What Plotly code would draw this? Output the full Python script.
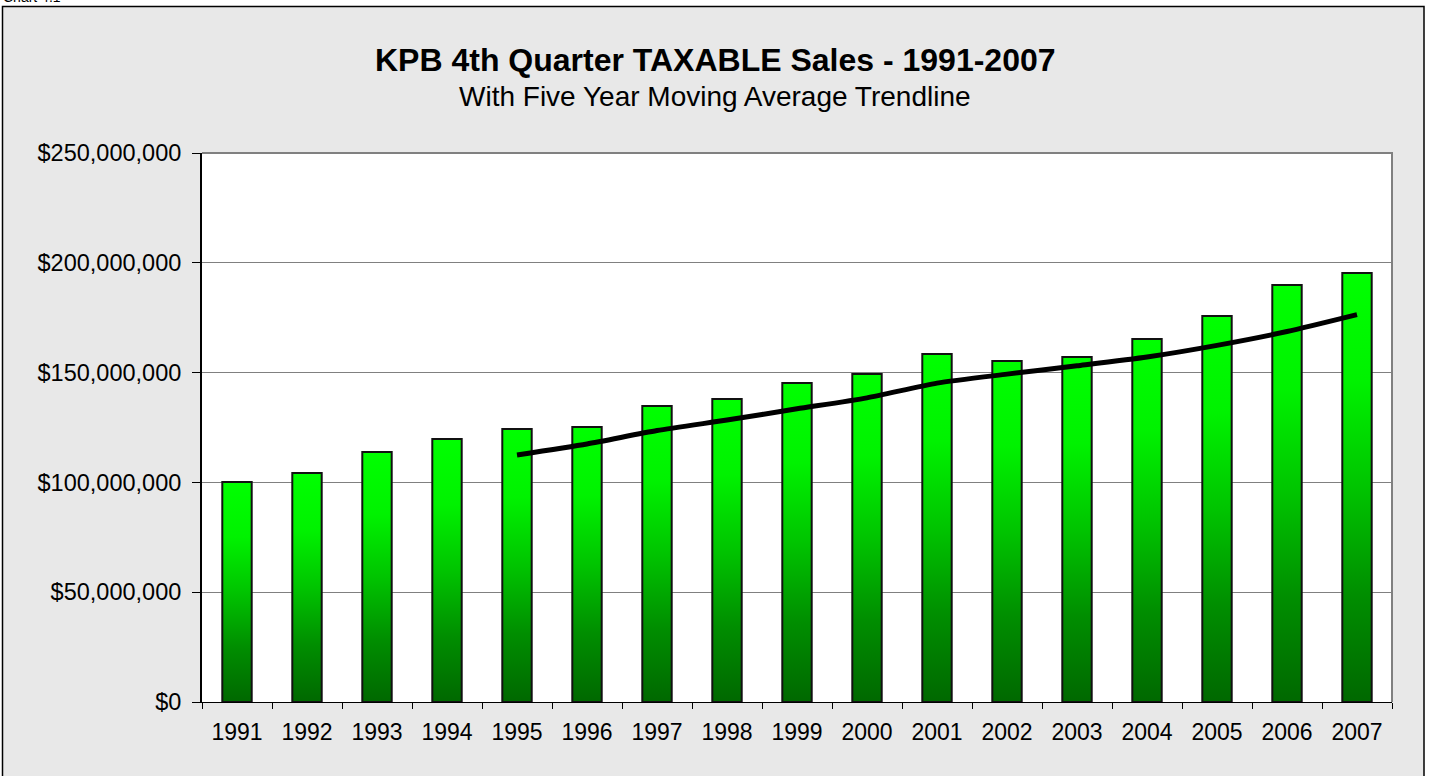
import plotly.graph_objects as go

years = ["1991","1992","1993","1994","1995","1996","1997","1998","1999",
         "2000","2001","2002","2003","2004","2005","2006","2007"]
sales = [100.2e6, 104.3e6, 113.8e6, 119.8e6, 124.3e6, 125.2e6, 134.8e6, 138.0e6,
         145.3e6, 149.4e6, 158.5e6, 155.3e6, 157.1e6, 165.3e6, 175.8e6, 189.9e6, 195.4e6]
ma_years = ["1995","1996","1997","1998","1999","2000","2001","2002","2003",
            "2004","2005","2006","2007"]
ma_values = [112.5e6, 117.5e6, 123.6e6, 128.4e6, 133.5e6, 138.5e6, 145.2e6, 149.3e6,
             153.1e6, 157.1e6, 162.4e6, 168.7e6, 176.4e6]
ytick_vals = [0, 50e6, 100e6, 150e6, 200e6, 250e6]
ytick_text = ["$0", "$50,000,000", "$100,000,000", "$150,000,000", "$200,000,000", "$250,000,000"]

FONT = "Liberation Sans, Arial, sans-serif"
BAR_W = 0.42
BAR_SCALE = [[0, "#006800"], [0.25, "#008E00"], [0.5, "#00C400"],
             [0.75, "#00F200"], [1, "#00FF00"]]

# plot area in pixels
L, R, T, B = 202, 1392, 153, 702
PW, PH = R - L, B - T


def px(xp):
    return (xp - L) / PW


def py(yp):
    return (B - yp) / PH


fig = go.Figure()

idx = {y: i for i, y in enumerate(years)}
for i, (yr, v) in enumerate(zip(years, sales)):
    xs = [i - BAR_W / 2, i + BAR_W / 2, i + BAR_W / 2, i - BAR_W / 2, i - BAR_W / 2]
    ys = [0, 0, v, v, 0]
    fig.add_trace(go.Scatter(
        x=xs, y=ys, mode="lines", fill="toself",
        fillgradient=dict(type="vertical", start=0, stop=v, colorscale=BAR_SCALE),
        line=dict(color="#111111", width=2),
        hoverinfo="skip", showlegend=False, name=yr,
    ))

fig.add_trace(go.Scatter(
    x=[idx[y] for y in ma_years], y=ma_values, mode="lines",
    line=dict(color="#000000", width=5, shape="spline", smoothing=0.6),
    showlegend=False, name="5 Yr Moving Average",
))

fig.update_layout(
    width=1430, height=776,
    margin=dict(l=L, r=1430 - R, t=T, b=776 - B, pad=0),
    paper_bgcolor="#FFFFFF",
    plot_bgcolor="#FFFFFF",
    font=dict(family=FONT, color="#000000"),
    showlegend=False,
    xaxis=dict(
        range=[-0.5, len(years) - 0.5],
        tickvals=list(range(len(years))), ticktext=years,
        ticks="", showgrid=False, zeroline=False,
        ticklabelstandoff=9,
        tickfont=dict(size=23, family=FONT, color="#000000"),
        showline=True, linecolor="#000000", linewidth=1, mirror=False,
        minor=dict(tick0=-0.5, dtick=1, ticks="outside", ticklen=6,
                   tickcolor="#000000", tickwidth=1, showgrid=False),
        fixedrange=True,
    ),
    yaxis=dict(
        range=[0, 250e6],
        tickvals=ytick_vals, ticktext=ytick_text,
        ticks="outside", ticklen=8, tickcolor="#000000", tickwidth=1,
        ticklabelstandoff=6,
        showgrid=True, gridcolor="#808080", gridwidth=1,
        zeroline=False,
        showline=True, linecolor="#000000", linewidth=2,
        tickfont=dict(size=23.5, family=FONT, color="#000000"),
        fixedrange=True,
    ),
)

# outer chart area and border
fig.add_shape(type="rect", xref="paper", yref="paper",
              x0=px(2.5), x1=px(1424), y0=py(782), y1=py(6.5),
              fillcolor="#E8E8E8", line=dict(color="#000000", width=1.5),
              layer="below")
# white plot area
fig.add_shape(type="rect", xref="paper", yref="paper",
              x0=0, x1=1, y0=0, y1=1,
              fillcolor="#FFFFFF", line=dict(width=0), layer="below")
# plot area top/right border
fig.add_shape(type="path", xref="paper", yref="paper",
              path="M 0,1 L 1,1 L 1,0",
              line=dict(color="#808080", width=2), layer="above")

fig.add_annotation(xref="paper", yref="paper", x=px(715), y=py(60),
                   text="<b>KPB 4th Quarter TAXABLE Sales - 1991-2007</b>",
                   showarrow=False, xanchor="center", yanchor="middle",
                   font=dict(size=32, family=FONT, color="#000000"))
fig.add_annotation(xref="paper", yref="paper", x=px(715), y=py(96),
                   text="With Five Year Moving Average Trendline",
                   showarrow=False, xanchor="center", yanchor="middle",
                   font=dict(size=28, family=FONT, color="#000000"))
fig.add_annotation(xref="paper", yref="paper", x=px(1), y=py(7),
                   text="Chart 4.1", showarrow=False, xanchor="left", yanchor="bottom",
                   font=dict(size=14, family=FONT, color="#000000"))

fig.write_html(
    "out.html",
    config={"displayModeBar": False},
    post_script="document.body.style.margin='0';document.body.style.padding='0';"
                "document.body.style.overflow='hidden';",
)
